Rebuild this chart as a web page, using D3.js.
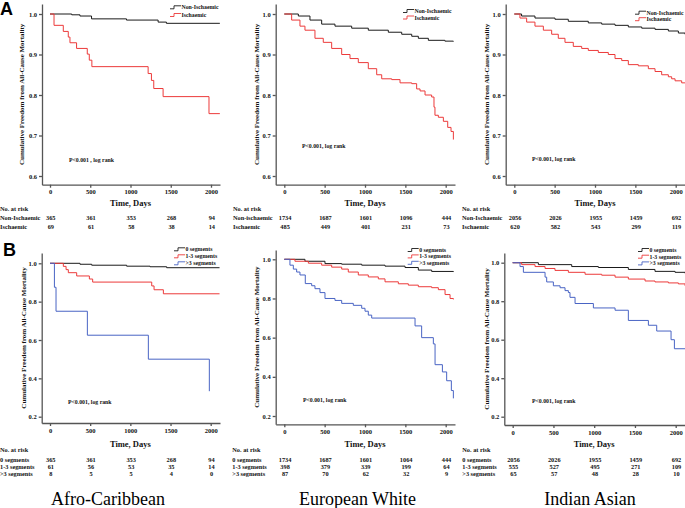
<!DOCTYPE html>
<html><head><meta charset="utf-8">
<script src="https://cdn.jsdelivr.net/npm/d3@7"></script>
<style>body{margin:0;background:#fff}svg{display:block}</style>
</head><body><svg id="c" width="685" height="508"></svg>
<script>
// ---------- DATA ----------
const xTicks = [0, 500, 1000, 1500, 2000];
const yTicksA = [0.6, 0.7, 0.8, 0.9, 1.0];
const yTicksB = [0.2, 0.4, 0.6, 0.8, 1.0];
const ethnicGroups = ["Afro-Caribbean", "European White", "Indian Asian"];
const ischLabels = ["Non-Ischaemic", "Ischaemic"];
const segLabels = ["0 segments", "1-3 segments", ">3 segments"];

// Panel A – Afro-Caribbean
const acNonIschT = [0, 270, 372, 516, 950, 1343, 1446, 2110];
const acNonIschS = [1.0, 0.998, 0.995, 0.988, 0.985, 0.980, 0.977, 0.977];
const acIschT = [0, 50, 165, 227, 248, 330, 463, 488, 520, 1219, 1260, 1289, 1405, 1975, 2110];
const acIschS = [1.0, 0.972, 0.957, 0.943, 0.929, 0.915, 0.901, 0.886, 0.870, 0.853, 0.836, 0.816, 0.796, 0.754, 0.754];
// Panel A – European White
const ewNonIschT = [0, 174, 318, 463, 628, 835, 1041, 1289, 1455, 1579, 1661, 1785, 1990, 2095];
const ewNonIschS = [1.0, 0.995, 0.985, 0.975, 0.970, 0.965, 0.960, 0.955, 0.950, 0.945, 0.940, 0.935, 0.933, 0.932];
const ewIschT = [0, 91, 194, 256, 380, 483, 587, 711, 814, 917, 1041, 1145, 1207, 1331, 1434, 1579, 1640, 1682, 1744, 1826, 1855, 1867, 1909, 1971, 2025, 2066, 2095];
const ewIschS = [1.0, 0.985, 0.970, 0.960, 0.940, 0.930, 0.915, 0.900, 0.890, 0.880, 0.865, 0.850, 0.840, 0.838, 0.830, 0.828, 0.815, 0.810, 0.800, 0.795, 0.770, 0.750, 0.745, 0.735, 0.720, 0.710, 0.690];
// Panel A – Indian Asian
const iaNonIschT = [0, 90, 256, 504, 669, 917, 1083, 1248, 1413, 1579, 1744, 1909, 2033, 2115];
const iaNonIschS = [1.0, 0.995, 0.990, 0.987, 0.982, 0.978, 0.975, 0.972, 0.968, 0.965, 0.962, 0.958, 0.953, 0.950];
const iaIschT = [0, 70, 153, 256, 360, 463, 545, 628, 731, 835, 917, 1041, 1165, 1248, 1331, 1413, 1537, 1661, 1744, 1826, 1909, 1950, 1992, 2074, 2115];
const iaIschS = [1.0, 0.990, 0.980, 0.970, 0.960, 0.950, 0.940, 0.930, 0.920, 0.915, 0.910, 0.905, 0.900, 0.890, 0.885, 0.875, 0.872, 0.865, 0.858, 0.850, 0.845, 0.840, 0.835, 0.830, 0.830];

// Panel B – Afro-Caribbean
const acSeg0T = [0, 373, 519, 954, 1245, 1452, 2110];
const acSeg0S = [1.0, 0.995, 0.990, 0.985, 0.982, 0.977, 0.977];
const acSeg13T = [0, 166, 200, 228, 332, 490, 531, 1266, 1295, 1411, 2110];
const acSeg13S = [1.0, 0.984, 0.967, 0.951, 0.934, 0.918, 0.902, 0.882, 0.862, 0.841, 0.841];
const acSeg3T = [0, 55, 75, 465, 1224, 1983];
const acSeg3S = [1.0, 0.875, 0.75, 0.625, 0.5, 0.333];
// Panel B – European White
const ewSeg0T = [0, 256, 504, 711, 959, 1248, 1496, 1661, 1826, 2095];
const ewSeg0S = [1.0, 0.990, 0.978, 0.975, 0.970, 0.965, 0.958, 0.945, 0.938, 0.935];
const ewSeg13T = [0, 132, 298, 463, 587, 711, 793, 917, 1041, 1165, 1248, 1413, 1537, 1661, 1826, 1909, 1992, 2054, 2095];
const ewSeg13S = [1.0, 0.990, 0.980, 0.970, 0.960, 0.950, 0.935, 0.920, 0.910, 0.900, 0.885, 0.875, 0.868, 0.860, 0.855, 0.845, 0.820, 0.800, 0.795];
const ewSeg3T = [0, 70, 112, 153, 194, 260, 339, 380, 442, 504, 628, 711, 855, 959, 1000, 1041, 1083, 1620, 1702, 1847, 1868, 1959, 2012, 2070, 2095];
const ewSeg3S = [1.0, 0.970, 0.950, 0.935, 0.920, 0.876, 0.865, 0.850, 0.830, 0.800, 0.790, 0.775, 0.765, 0.750, 0.735, 0.715, 0.700, 0.660, 0.600, 0.568, 0.462, 0.425, 0.380, 0.330, 0.290];
// Panel B – Indian Asian
const iaSeg0T = [0, 315, 724, 1051, 1419, 1746, 1992, 2115];
const iaSeg0S = [1.0, 0.990, 0.980, 0.975, 0.965, 0.955, 0.950, 0.945];
const iaSeg13T = [0, 110, 274, 397, 519, 683, 888, 1092, 1256, 1419, 1624, 1746, 1910, 2033, 2115];
const iaSeg13S = [1.0, 0.990, 0.980, 0.970, 0.960, 0.950, 0.940, 0.935, 0.925, 0.915, 0.905, 0.900, 0.895, 0.890, 0.880];
const iaSeg3T = [0, 90, 131, 397, 417, 499, 581, 642, 683, 703, 765, 990, 1256, 1419, 1665, 1767, 1943, 1984, 2115];
const iaSeg3S = [1.0, 0.980, 0.950, 0.925, 0.900, 0.880, 0.870, 0.855, 0.845, 0.820, 0.788, 0.765, 0.753, 0.700, 0.675, 0.645, 0.600, 0.553, 0.553];

// Numbers at risk
const acRiskNonIsch = [365, 361, 353, 268, 94];
const acRiskIsch = [69, 61, 58, 38, 14];
const ewRiskNonIsch = [1734, 1687, 1601, 1096, 444];
const ewRiskIsch = [485, 449, 401, 231, 73];
const iaRiskNonIsch = [2056, 2026, 1955, 1459, 692];
const iaRiskIsch = [620, 582, 543, 299, 119];
const acRiskSeg0 = [365, 361, 353, 268, 94];
const acRiskSeg13 = [61, 56, 53, 35, 14];
const acRiskSeg3 = [8, 5, 5, 4, 0];
const ewRiskSeg0 = [1734, 1687, 1601, 1064, 444];
const ewRiskSeg13 = [398, 379, 339, 199, 64];
const ewRiskSeg3 = [87, 70, 62, 32, 9];
const iaRiskSeg0 = [2056, 2026, 1955, 1459, 692];
const iaRiskSeg13 = [555, 527, 495, 271, 109];
const iaRiskSeg3 = [65, 57, 48, 28, 10];

// ---------- DRAWING ----------
const SERIF = "'Liberation Serif','Times New Roman',serif";
const SANS = "'Liberation Sans',Arial,sans-serif";
const C_BLACK = "#1a1a1a", C_RED = "#ec3a3a", C_BLUE = "#4964c4", AXIS = "#555";
const svg = d3.select("#c");

function txt(g, x, y, s, size, opts = {}) {
  return g.append("text").attr("x", x).attr("y", y).text(s)
    .attr("font-family", opts.family || SERIF).attr("font-size", size)
    .attr("font-weight", opts.weight || "bold").attr("fill", opts.fill || "#111")
    .attr("text-anchor", opts.anchor || "start");
}

function panel(cfg) {
  const g = svg.append("g");
  const x = d3.scaleLinear().domain([0, 2000]).range([cfg.x0, cfg.x2000]);
  x.domain([x.invert(cfg.axisX), x.invert(cfg.endX)]).range([cfg.axisX, cfg.endX]);
  const y = d3.scaleLinear().domain([cfg.yLoTick, 1]).range([cfg.yLoPx, cfg.y1Px]);
  y.domain([y.invert(cfg.bottom), y.invert(cfg.top)]).range([cfg.bottom, cfg.top]);

  const ya = g.append("g").attr("transform", `translate(${cfg.axisX},0)`)
    .call(d3.axisLeft(y).tickValues(cfg.yTicks).tickFormat(d3.format(".1f")).tickSizeInner(3).tickSizeOuter(0).tickPadding(2));
  const xa = g.append("g").attr("transform", `translate(0,${cfg.bottom})`)
    .call(d3.axisBottom(x).tickValues(xTicks).tickFormat(d3.format("d")).tickSizeInner(3).tickSizeOuter(0).tickPadding(2));
  [ya, xa].forEach(a => {
    a.selectAll("path,line").attr("stroke", AXIS).attr("stroke-width", 1.3);
    a.selectAll("text").attr("font-family", SERIF).attr("font-size", 6.5).attr("font-weight", "bold").attr("fill", "#111");
  });

  const line = d3.line().x(d => x(d[0])).y(d => y(d[1])).curve(d3.curveStepAfter);
  cfg.series.forEach(s => {
    g.append("path").datum(d3.zip(s.t, s.s)).attr("d", line)
      .attr("fill", "none").attr("stroke", s.color).attr("stroke-width", 1);
  });

  // legend
  cfg.series.forEach((s, i) => {
    const ly = cfg.legY + i * cfg.legDy;
    g.append("path").attr("d", `M${cfg.legX},${ly + 1.5}h4v-3h7`).attr("fill", "none").attr("stroke", s.color).attr("stroke-width", 0.9);
    txt(g, cfg.legX + 11.5, ly + 2, s.label, 5.8);
  });

  // y label
  g.append("text").attr("transform", `translate(${cfg.ylabX},${(cfg.top + cfg.bottom) / 2}) rotate(-90)`)
    .attr("text-anchor", "middle").attr("dy", "0.35em").text("Cumulative Freedom from All-Cause Mortality")
    .attr("font-family", SERIF).attr("font-size", 7).attr("font-weight", "bold").attr("fill", "#111");

  // p value
  txt(g, cfg.pX, cfg.pY + 2, cfg.pText, 5.8);

  // x label
  txt(g, (x(0) + x(2000)) / 2, cfg.timeY, "Time, Days", 8.5, { anchor: "middle" });

  // risk table
  txt(g, cfg.riskX, cfg.riskHeadY, "No. at risk", 6.3);
  cfg.risk.forEach((r, i) => {
    txt(g, cfg.riskX, cfg.riskRowY[i], r.label, 6.3);
    r.vals.forEach((v, j) => txt(g, x(xTicks[j]) + 0.8, cfg.riskRowY[i], v, 6.3, { anchor: "middle" }));
  });
}

const rowsA = [210.5, 220.2, 229.3];
const rowsB = [452, 462, 469, 476];

panel({ axisX: 42, x0: 50, x2000: 211, endX: 220, top: 4, bottom: 184.7, y1Px: 14, yLoTick: 0.6, yLoPx: 176, yTicks: yTicksA,
  series: [{ t: acNonIschT, s: acNonIschS, color: C_BLACK, label: ischLabels[0] }, { t: acIschT, s: acIschS, color: C_RED, label: ischLabels[1] }],
  legX: 170, legY: 7.3, legDy: 7.7, ylabX: 22, pX: 69, pY: 160, pText: "P<0.001 , log rank", timeY: 206,
  riskX: 0, riskHeadY: rowsA[0], riskRowY: rowsA.slice(1),
  risk: [{ label: "Non-Ischaemic", vals: acRiskNonIsch }, { label: "Ischaemic", vals: acRiskIsch }] });

panel({ axisX: 275.7, x0: 284.3, x2000: 445.7, endX: 455, top: 4, bottom: 184.7, y1Px: 14, yLoTick: 0.6, yLoPx: 176, yTicks: yTicksA,
  series: [{ t: ewNonIschT, s: ewNonIschS, color: C_BLACK, label: ischLabels[0] }, { t: ewIschT, s: ewIschS, color: C_RED, label: ischLabels[1] }],
  legX: 403, legY: 11, legDy: 6.5, ylabX: 256.7, pX: 302, pY: 146, pText: "P<0.001, log rank", timeY: 206,
  riskX: 233, riskHeadY: rowsA[0], riskRowY: rowsA.slice(1),
  risk: [{ label: "Non-ischaemic", vals: ewRiskNonIsch }, { label: "Ischaemic", vals: ewRiskIsch }] });

panel({ axisX: 505.7, x0: 514.3, x2000: 675.7, endX: 685, top: 4, bottom: 184.7, y1Px: 14, yLoTick: 0.6, yLoPx: 176, yTicks: yTicksA,
  series: [{ t: iaNonIschT, s: iaNonIschS, color: C_BLACK, label: ischLabels[0] }, { t: iaIschT, s: iaIschS, color: C_RED, label: ischLabels[1] }],
  legX: 635, legY: 12.7, legDy: 6.5, ylabX: 486.7, pX: 532, pY: 159, pText: "P<0.001, log rank", timeY: 206,
  riskX: 462, riskHeadY: rowsA[0], riskRowY: rowsA.slice(1),
  risk: [{ label: "Non-Ischaemic", vals: iaRiskNonIsch }, { label: "Ischaemic", vals: iaRiskIsch }] });

panel({ axisX: 41.7, x0: 50, x2000: 210.7, endX: 220, top: 253, bottom: 423, y1Px: 263.3, yLoTick: 0.2, yLoPx: 416.7, yTicks: yTicksB,
  series: [{ t: acSeg0T, s: acSeg0S, color: C_BLACK, label: segLabels[0] }, { t: acSeg13T, s: acSeg13S, color: C_RED, label: segLabels[1] }, { t: acSeg3T, s: acSeg3S, color: C_BLUE, label: segLabels[2] }],
  legX: 174, legY: 249.3, legDy: 7, ylabX: 24, pX: 68, pY: 401.7, pText: "P<0.001, log rank", timeY: 447,
  riskX: 0, riskHeadY: rowsB[0], riskRowY: rowsB.slice(1),
  risk: [{ label: segLabels[0], vals: acRiskSeg0 }, { label: segLabels[1], vals: acRiskSeg13 }, { label: segLabels[2], vals: acRiskSeg3 }] });

panel({ axisX: 275.7, x0: 284.3, x2000: 445.7, endX: 455, top: 250, bottom: 424.3, y1Px: 259.3, yLoTick: 0.2, yLoPx: 416, yTicks: yTicksB,
  series: [{ t: ewSeg0T, s: ewSeg0S, color: C_BLACK, label: segLabels[0] }, { t: ewSeg13T, s: ewSeg13S, color: C_RED, label: segLabels[1] }, { t: ewSeg3T, s: ewSeg3S, color: C_BLUE, label: segLabels[2] }],
  legX: 407.7, legY: 250, legDy: 6.4, ylabX: 256.7, pX: 303, pY: 400, pText: "P<0.001, log rank", timeY: 447,
  riskX: 232.3, riskHeadY: rowsB[0], riskRowY: rowsB.slice(1),
  risk: [{ label: segLabels[0], vals: ewRiskSeg0 }, { label: segLabels[1], vals: ewRiskSeg13 }, { label: segLabels[2], vals: ewRiskSeg3 }] });

panel({ axisX: 504.3, x0: 512.7, x2000: 675.7, endX: 685, top: 253, bottom: 425, y1Px: 262.7, yLoTick: 0.2, yLoPx: 416.7, yTicks: yTicksB,
  series: [{ t: iaSeg0T, s: iaSeg0S, color: C_BLACK, label: segLabels[0] }, { t: iaSeg13T, s: iaSeg13S, color: C_RED, label: segLabels[1] }, { t: iaSeg3T, s: iaSeg3S, color: C_BLUE, label: segLabels[2] }],
  legX: 638, legY: 250, legDy: 6.7, ylabX: 486.7, pX: 532, pY: 400.7, pText: "P<0.001, log rank", timeY: 447,
  riskX: 462.3, riskHeadY: rowsB[0], riskRowY: rowsB.slice(1),
  risk: [{ label: segLabels[0], vals: iaRiskSeg0 }, { label: segLabels[1], vals: iaRiskSeg13 }, { label: segLabels[2], vals: iaRiskSeg3 }] });

// group titles
const titleX = [108, 357.5, 590];
ethnicGroups.forEach((t, i) => txt(svg, titleX[i], 505, t, 18, { weight: "normal", anchor: "middle", fill: "#000" }));

// panel letters
txt(svg, 0, 15, "A", 18, { family: SANS, fill: "#000" });
txt(svg, 3, 255.5, "B", 18, { family: SANS, fill: "#000" });
</script>
</body></html>
